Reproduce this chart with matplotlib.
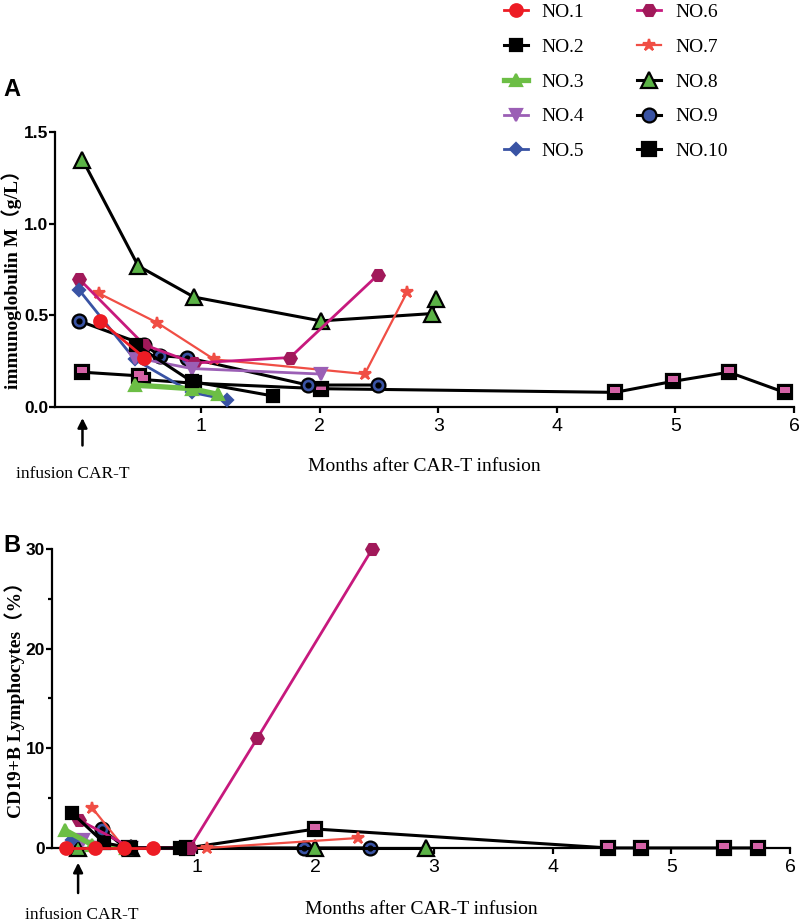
import numpy as np
import matplotlib.pyplot as plt
from matplotlib.path import Path

plt.rcParams['font.family'] = ['Liberation Sans', 'DejaVu Sans']
serif = ['Liberation Serif', 'Noto Sans CJK SC', 'DejaVu Serif']

labels = ['NO.1', 'NO.2', 'NO.3', 'NO.4', 'NO.5', 'NO.6', 'NO.7', 'NO.8', 'NO.9', 'NO.10']

# panel A: immunoglobulin M (g/L)
A_x = [
    [0.15, 0.52],
    [0.45, 0.92, 1.61],
    [0.44, 0.92, 1.14],
    [0.44, 0.92, 2.01],
    [-0.03, 0.44, 0.92, 1.22],
    [-0.03, 0.52, 0.94, 1.75, 2.49],
    [0.14, 0.63, 1.11, 2.38, 2.74],
    [0.0, 0.47, 0.94, 2.01, 2.95, 2.98],
    [-0.03, 0.52, 0.65, 0.88, 1.90, 2.49],
    [0.0, 0.48, 0.51, 0.94, 2.01, 4.49, 4.98, 5.45, 5.92],
]
A_y = [
    [0.47, 0.27],
    [0.34, 0.14, 0.06],
    [0.12, 0.10, 0.07],
    [0.27, 0.21, 0.18],
    [0.64, 0.26, 0.08, 0.04],
    [0.70, 0.34, 0.24, 0.27, 0.72],
    [0.62, 0.46, 0.26, 0.18, 0.63],
    [1.35, 0.77, 0.60, 0.47, 0.51, 0.59],
    [0.47, 0.34, 0.28, 0.27, 0.12, 0.12],
    [0.19, 0.17, 0.15, 0.13, 0.10, 0.08, 0.14, 0.19, 0.08],
]

# panel B: CD19+ B lymphocytes (%)
B_x = [
    [-0.10, 0.14, 0.39, 0.63],
    [-0.05, 0.22, 0.45, 0.86],
    [-0.11, 0.12, 0.40],
    [0.04, 0.45],
    [-0.05, 0.45],
    [0.01, 0.45, 0.94, 1.51, 2.48],
    [0.12, 0.39, 1.09, 2.36],
    [0.0, 0.45, 2.0, 2.93],
    [0.20, 0.40, 1.90, 2.46],
    [0.43, 0.92, 2.0, 4.47, 4.74, 5.44, 5.73],
]
B_y = [
    [0, 0, 0, 0],
    [3.5, 0.5, 0, 0],
    [1.8, 0.3, 0],
    [0.8, 0],
    [0.8, 0],
    [2.8, 0, 0, 11, 30],
    [4.0, 0, 0, 1.0],
    [0, 0, 0, 0],
    [1.9, 0, 0, 0],
    [0, 0, 1.9, 0, 0, 0, 0],
]

# line colour, marker, marker face, marker edge, markersize, linewidth
styles = [
    ('#ED1C24', 'o', '#ED1C24', '#ED1C24', 9, 2.0),
    ('black', 's', 'black', 'black', 8.5, 2.2),
    ('#6CBE45', '^', '#6CBE45', '#6CBE45', 9, 3.8),
    ('#9B5FB5', 'v', '#9B5FB5', '#9B5FB5', 9, 2.0),
    ('#3953A4', 'D', '#3953A4', '#3953A4', 6, 2.0),
    ('#C7197D', 'H', '#A1195A', '#A1195A', 9, 2.0),
    ('#F04E45', '*', '#F04E45', '#F04E45', 9, 1.6),
    ('black', '^', '#5BB346', 'black', 11, 2.2),
    ('black', 'o', '#3953A4', 'black', 10, 2.2),
    ('black', 's', 'black', 'black', 10, 2.2),
]

pink_box = Path([(-1, -0.25), (1, -0.25), (1, 1.0), (-1, 1.0), (-1, -0.25)],
                [Path.MOVETO, Path.LINETO, Path.LINETO, Path.LINETO, Path.CLOSEPOLY])


def draw(ax, xs, ys):
    handles = [None] * 10
    for i in range(9, -1, -1):
        lc, m, fc, ec, ms, lw = styles[i]
        z = 3 + (10 - i) * 0.1
        h, = ax.plot(xs[i], ys[i], color=lc, marker=m, markerfacecolor=fc,
                     markeredgecolor=ec, markersize=ms, markeredgewidth=1.6,
                     linewidth=lw, clip_on=False, zorder=z)
        handles[i] = h
        if i == 8:
            ax.plot(xs[i], ys[i], linestyle='none', marker='o', color='black',
                    markersize=3.5, clip_on=False, zorder=z + 0.01)
        if i == 9:
            ax.plot(xs[i], ys[i], linestyle='none', marker=pink_box, color='#D462A6',
                    markersize=6.5, markeredgewidth=0, clip_on=False, zorder=z + 0.01)
    return handles


def style_axes(ax):
    for s in ['top', 'right']:
        ax.spines[s].set_visible(False)
    for s in ['left', 'bottom']:
        ax.spines[s].set_linewidth(1.6)
    ax.tick_params(axis='both', direction='out', width=1.6, length=4.5)
    ax.tick_params(axis='x', labelsize=14)
    ax.tick_params(axis='y', labelsize=12.5, pad=0.5)
    for t in ax.get_yticklabels():
        t.set_fontweight('bold')
    ax.set_xticks([1, 2, 3, 4, 5, 6])


fig = plt.figure(figsize=(8, 9.24), dpi=100)

axA = fig.add_axes([0.069, 0.5595, 0.9235, 0.2975])
handles = draw(axA, A_x, A_y)
axA.set_xlim(-0.23, 6)
axA.set_ylim(0, 1.5)
axA.set_yticks([0.0, 0.5, 1.0, 1.5])
axA.set_yticklabels(['0.0', '0.5', '1.0', '1.5'])
style_axes(axA)
axA.set_ylabel('immunoglobulin M（g/L）', family=serif, fontweight='bold', fontsize=14)
axA.yaxis.set_label_coords(-0.045, 0.48)
axA.text(0.5, -0.215, 'Months after CAR-T infusion', transform=axA.transAxes,
         family=serif, fontsize=14, ha='center', va='center')
axA.annotate('', xy=(0, -0.03), xytext=(0, -0.15), xycoords=('data', 'axes fraction'),
             textcoords=('data', 'axes fraction'),
             arrowprops=dict(arrowstyle='-|>', color='black', lw=1.8, mutation_scale=14))
axA.text(-0.08, -0.245, 'infusion CAR-T', transform=axA.get_xaxis_transform(),
         family=serif, fontsize=12.5, ha='center', va='center')
fig.text(0.004, 0.903, 'A', fontsize=17, fontweight='bold', va='center')

axB = fig.add_axes([0.065, 0.0823, 0.9225, 0.3237])
draw(axB, B_x, B_y)
axB.set_xlim(-0.22, 6)
axB.set_ylim(0, 30)
axB.set_yticks([0, 10, 20, 30])
axB.set_yticks([5, 15, 25], minor=True)
style_axes(axB)
axB.tick_params(axis='y', which='minor', direction='out', width=1.6, length=3)
axB.set_ylabel('CD19+B Lymphocytes（%）', family=serif, fontweight='bold', fontsize=14)
axB.yaxis.set_label_coords(-0.037, 0.51)
axB.text(0.5, -0.207, 'Months after CAR-T infusion', transform=axB.transAxes,
         family=serif, fontsize=14, ha='center', va='center')
axB.annotate('', xy=(0, -0.04), xytext=(0, -0.16), xycoords=('data', 'axes fraction'),
             textcoords=('data', 'axes fraction'),
             arrowprops=dict(arrowstyle='-|>', color='black', lw=1.8, mutation_scale=14))
axB.text(0.03, -0.225, 'infusion CAR-T', transform=axB.get_xaxis_transform(),
         family=serif, fontsize=12.5, ha='center', va='center')
fig.text(0.004, 0.41, 'B', fontsize=17, fontweight='bold', va='center')

fig.legend(handles, labels, loc='upper left', bbox_to_anchor=(0.608, 1.015), ncol=2,
           frameon=False, prop={'family': serif, 'size': 14}, labelspacing=0.88,
           handlelength=1.25, columnspacing=2.7, handletextpad=0.7)

fig.savefig('out.png', dpi=100)
